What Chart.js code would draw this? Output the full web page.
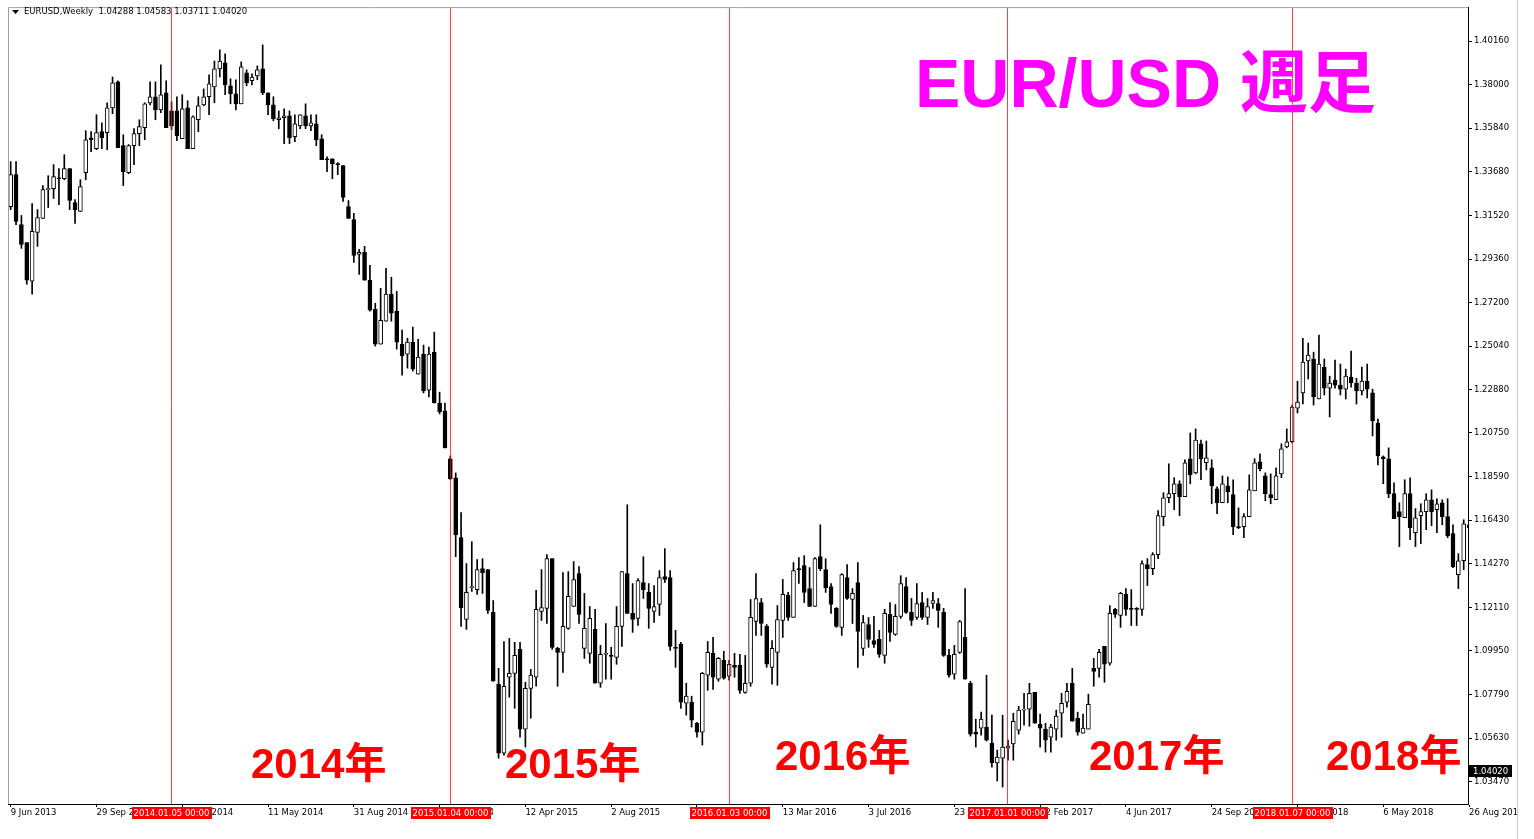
<!DOCTYPE html>
<html>
<head>
<meta charset="utf-8">
<script src="https://cdn.jsdelivr.net/npm/chart.js@4.4.0/dist/chart.umd.min.js"></script>
<style>
  html, body { margin: 0; padding: 0; background: #fff; }
  canvas { display: block; }
</style>
</head>
<body>
<canvas id="myChart" width="1534" height="839"></canvas>
<script>
// weekly EURUSD candles, 9 Jun 2013 .. Aug 2018
var open = [
  1.3196,1.3354,1.3107,1.3018,1.2826,1.3068,1.3137,1.3280,1.3285,1.3339,
  1.3334,1.3384,1.3216,1.3172,1.3364,1.3537,1.3483,1.3567,1.3562,1.3685,
  1.3814,1.3498,1.3364,1.3498,1.3557,1.3587,1.3710,1.3740,1.3675,1.3759,
  1.3670,1.3670,1.3532,1.3685,1.3483,1.3626,1.3700,1.3740,1.3789,1.3878,
  1.3908,1.3794,1.3755,1.3705,1.3858,1.3819,1.3843,1.3878,1.3759,1.3700,
  1.3626,1.3636,1.3646,1.3542,1.3596,1.3646,1.3596,1.3606,1.3532,1.3433,
  1.3433,1.3409,1.3399,1.3196,1.3132,1.2959,1.2969,1.2831,1.2687,1.2515,
  1.2628,1.2762,1.2678,1.2515,1.2465,1.2525,1.2366,1.2465,1.2287,1.2475,
  1.2223,1.2184,1.1947,1.1853,1.1556,1.1151,1.1309,1.1299,1.1403,1.1398,
  1.1186,1.0830,1.0489,1.0865,1.0884,1.1003,1.0608,1.0810,1.0865,1.1191,
  1.1206,1.1452,1.1008,1.0988,1.1107,1.1215,1.1378,1.1008,1.0983,1.1102,
  1.0835,1.0978,1.0973,1.0963,1.1117,1.1378,1.1181,1.1156,1.1334,1.1285,
  1.1191,1.1225,1.1364,1.1359,1.1013,1.1028,1.0736,1.0741,1.0637,1.0593,
  1.0875,1.0983,1.0855,1.0948,1.0870,1.0924,1.0924,1.0790,1.0835,1.1141,
  1.1235,1.1117,1.0914,1.0988,1.1146,1.1270,1.1161,1.1403,1.1418,1.1304,
  1.1215,1.1462,1.1398,1.1314,1.1206,1.1112,1.1359,1.1250,1.1334,1.1008,
  1.1126,1.1047,1.1052,1.0973,1.1176,1.1077,1.1166,1.1314,1.1186,1.1161,
  1.1235,1.1161,1.1230,1.1230,1.1186,1.0973,1.0880,1.0988,1.1062,1.0835,
  1.0593,1.0613,1.0618,1.0539,1.0440,1.0464,1.0514,1.0534,1.0603,1.0702,
  1.0707,1.0790,1.0632,1.0608,1.0568,1.0608,1.0687,1.0741,1.0835,1.0662,
  1.0588,1.0608,1.0909,1.0909,1.1018,1.0934,1.1201,1.1171,1.1275,1.1206,
  1.1206,1.1201,1.1423,1.1403,1.1472,1.1660,1.1754,1.1774,1.1823,1.1759,
  1.1947,1.1877,1.2021,1.1927,1.1902,1.1798,1.1729,1.1813,1.1769,1.1611,
  1.1611,1.1660,1.1788,1.1932,1.1862,1.1769,1.1744,1.1872,1.2006,1.2031,
  1.2198,1.2273,1.2431,1.2441,1.2243,1.2401,1.2297,1.2337,1.2312,1.2292,
  1.2351,1.2322,1.2283,1.2332,1.2273,1.2124,1.1956,1.1947,1.1774,1.1685,
  1.1655,1.1774,1.1581,1.1665,1.1685,1.1744,1.1695,1.1729,1.1660,1.1576,
  1.1373,1.1442,1.1620
];
var high = [
  1.3419,1.3419,1.3152,1.3018,1.3211,1.3181,1.3300,1.3349,1.3404,1.3384,
  1.3453,1.3384,1.3231,1.3329,1.3572,1.3567,1.3651,1.3611,1.3710,1.3838,
  1.3819,1.3552,1.3503,1.3582,1.3626,1.3710,1.3814,1.3814,1.3898,1.3819,
  1.3715,1.3740,1.3750,1.3720,1.3646,1.3740,1.3779,1.3848,1.3917,1.3972,
  1.3952,1.3829,1.3824,1.3913,1.3873,1.3853,1.3893,1.3997,1.3759,1.3740,
  1.3670,1.3680,1.3670,1.3651,1.3651,1.3705,1.3651,1.3651,1.3552,1.3443,
  1.3433,1.3414,1.3399,1.3226,1.3162,1.2984,1.2999,1.2905,1.2717,1.2791,
  1.2890,1.2846,1.2776,1.2584,1.2544,1.2599,1.2539,1.2510,1.2500,1.2574,
  1.2277,1.2223,1.1961,1.1877,1.1680,1.1428,1.1536,1.1448,1.1452,1.1398,
  1.1245,1.0909,1.1042,1.1057,1.1038,1.1038,1.0840,1.0904,1.1295,1.1398,
  1.1472,1.1452,1.1013,1.1383,1.1388,1.1438,1.1413,1.1280,1.1215,1.1201,
  1.1023,1.1131,1.1013,1.1215,1.1388,1.1719,1.1329,1.1354,1.1462,1.1329,
  1.1319,1.1393,1.1502,1.1393,1.1097,1.1038,1.0835,1.0771,1.0642,1.0889,
  1.1042,1.1062,1.0963,1.0993,1.0948,1.0983,1.0978,1.0973,1.1250,1.1378,
  1.1255,1.1126,1.1047,1.1220,1.1349,1.1285,1.1433,1.1457,1.1467,1.1408,
  1.1457,1.1620,1.1452,1.1329,1.1210,1.1378,1.1423,1.1304,1.1433,1.1171,
  1.1161,1.1166,1.1097,1.1201,1.1235,1.1225,1.1368,1.1359,1.1255,1.1329,
  1.1285,1.1255,1.1285,1.1255,1.1206,1.1003,1.1023,1.1146,1.1304,1.0845,
  1.0657,1.0692,1.0875,1.0677,1.0504,1.0677,1.0553,1.0687,1.0721,1.0785,
  1.0835,1.0790,1.0682,1.0637,1.0632,1.0702,1.0785,1.0835,1.0909,1.0692,
  1.0682,1.0781,1.0958,1.1003,1.1018,1.1220,1.1206,1.1285,1.1304,1.1299,
  1.1210,1.1442,1.1452,1.1482,1.1690,1.1779,1.1922,1.1853,1.1838,1.1942,
  1.2075,1.2095,1.2040,1.2035,1.1942,1.1808,1.1862,1.1857,1.1843,1.1704,
  1.1675,1.1867,1.1947,1.1971,1.1877,1.1872,1.1902,1.2021,1.2095,1.2213,
  1.2331,1.2544,1.2520,1.2475,1.2559,1.2441,1.2356,1.2436,1.2416,1.2391,
  1.2480,1.2346,1.2401,1.2416,1.2292,1.2144,1.1961,1.2001,1.1828,1.1729,
  1.1843,1.1853,1.1700,1.1724,1.1774,1.1793,1.1749,1.1744,1.1749,1.1620,
  1.1477,1.1645,1.1729
];
var low = [
  1.3181,1.3107,1.2989,1.2811,1.2762,1.2999,1.3137,1.3191,1.3236,1.3206,
  1.3329,1.3181,1.3112,1.3172,1.3329,1.3468,1.3478,1.3483,1.3478,1.3656,
  1.3488,1.3300,1.3359,1.3404,1.3498,1.3527,1.3700,1.3626,1.3661,1.3587,
  1.3577,1.3522,1.3532,1.3483,1.3483,1.3567,1.3695,1.3651,1.3710,1.3838,
  1.3750,1.3705,1.3675,1.3705,1.3794,1.3799,1.3824,1.3750,1.3651,1.3621,
  1.3582,1.3508,1.3508,1.3517,1.3582,1.3582,1.3572,1.3498,1.3428,1.3369,
  1.3334,1.3354,1.3221,1.3137,1.2920,1.2860,1.2831,1.2678,1.2505,1.2515,
  1.2628,1.2628,1.2490,1.2361,1.2396,1.2381,1.2366,1.2273,1.2253,1.2223,
  1.2169,1.2001,1.1843,1.1462,1.1117,1.1102,1.1290,1.1275,1.1280,1.1181,
  1.0845,1.0464,1.0479,1.0766,1.0711,1.0568,1.0519,1.0662,1.0820,1.1146,
  1.1131,1.1003,1.0820,1.0889,1.1102,1.1215,1.1131,1.0958,1.0934,1.0835,
  1.0815,1.0855,1.0855,1.0929,1.1018,1.1181,1.1087,1.1121,1.1255,1.1107,
  1.1136,1.1171,1.1334,1.0998,1.0914,1.0711,1.0677,1.0618,1.0568,1.0529,
  1.0800,1.0805,1.0845,1.0855,1.0850,1.0865,1.0785,1.0785,1.0820,1.1072,
  1.1072,1.0914,1.0830,1.0825,1.1062,1.1146,1.1161,1.1329,1.1235,1.1215,
  1.1215,1.1393,1.1285,1.1181,1.1112,1.1072,1.1250,1.1131,1.0914,1.0973,
  1.1013,1.1013,1.0963,1.0934,1.1042,1.1072,1.1156,1.1181,1.1121,1.1151,
  1.1151,1.1126,1.1206,1.1112,1.0968,1.0865,1.0855,1.0983,1.0855,1.0573,
  1.0519,1.0578,1.0549,1.0420,1.0351,1.0321,1.0454,1.0454,1.0583,1.0627,
  1.0622,1.0637,1.0519,1.0494,1.0494,1.0553,1.0568,1.0716,1.0647,1.0578,
  1.0588,1.0608,1.0820,1.0865,1.0840,1.0924,1.1161,1.1112,1.1171,1.1121,
  1.1121,1.1171,1.1319,1.1373,1.1452,1.1615,1.1729,1.1695,1.1665,1.1759,
  1.1823,1.1872,1.1843,1.1892,1.1724,1.1675,1.1729,1.1729,1.1571,1.1601,
  1.1556,1.1660,1.1788,1.1887,1.1739,1.1724,1.1744,1.1853,1.2001,1.2026,
  1.2174,1.2218,1.2342,1.2213,1.2243,1.2263,1.2154,1.2297,1.2263,1.2243,
  1.2302,1.2218,1.2263,1.2248,1.2060,1.1917,1.1823,1.1754,1.1650,1.1512,
  1.1655,1.1546,1.1512,1.1527,1.1596,1.1615,1.1581,1.1620,1.1556,1.1408,
  1.1304,1.1398,1.1601
];
var close = [
  1.3354,1.3122,1.3009,1.2831,1.3073,1.3142,1.3280,1.3285,1.3344,1.3334,
  1.3384,1.3226,1.3181,1.3295,1.3527,1.3527,1.3562,1.3537,1.3685,1.3809,
  1.3488,1.3369,1.3498,1.3557,1.3592,1.3705,1.3740,1.3675,1.3750,1.3587,
  1.3596,1.3547,1.3680,1.3483,1.3641,1.3695,1.3740,1.3804,1.3878,1.3917,
  1.3799,1.3755,1.3705,1.3888,1.3809,1.3838,1.3873,1.3759,1.3700,1.3631,
  1.3636,1.3646,1.3537,1.3606,1.3651,1.3596,1.3611,1.3527,1.3428,1.3428,
  1.3409,1.3404,1.3241,1.3137,1.2954,1.2969,1.2831,1.2683,1.2515,1.2633,
  1.2762,1.2668,1.2525,1.2456,1.2525,1.2391,1.2451,1.2283,1.2465,1.2223,
  1.2179,1.2001,1.1848,1.1571,1.1210,1.1285,1.1314,1.1398,1.1383,1.1196,
  1.0845,1.0489,1.0820,1.0884,1.0973,1.0608,1.0810,1.0875,1.1201,1.1210,
  1.1452,1.1013,1.0988,1.1117,1.1265,1.1349,1.1176,1.1107,1.1156,1.0835,
  1.0978,1.0983,1.0968,1.1117,1.1388,1.1181,1.1151,1.1344,1.1299,1.1206,
  1.1215,1.1359,1.1349,1.1018,1.1008,1.0741,1.0771,1.0652,1.0593,1.0884,
  1.0988,1.0865,1.0958,1.0860,1.0929,1.0914,1.0800,1.0835,1.1161,1.1255,
  1.1131,1.0929,1.1008,1.1151,1.1275,1.1161,1.1393,1.1398,1.1285,1.1215,
  1.1452,1.1403,1.1309,1.1225,1.1117,1.1373,1.1255,1.1280,1.1092,1.1136,
  1.1052,1.1028,1.0978,1.1181,1.1087,1.1166,1.1329,1.1186,1.1146,1.1230,
  1.1161,1.1215,1.1245,1.1196,1.0973,1.0875,1.0978,1.1141,1.0855,1.0583,
  1.0583,1.0657,1.0553,1.0440,1.0469,1.0519,1.0524,1.0647,1.0702,1.0707,
  1.0785,1.0637,1.0613,1.0553,1.0618,1.0672,1.0736,1.0795,1.0647,1.0593,
  1.0613,1.0731,1.0894,1.0988,1.0929,1.1181,1.1176,1.1280,1.1201,1.1201,
  1.1201,1.1428,1.1403,1.1472,1.1665,1.1754,1.1774,1.1823,1.1759,1.1927,
  1.1867,1.2040,1.1947,1.1952,1.1813,1.1729,1.1823,1.1784,1.1611,1.1606,
  1.1660,1.1793,1.1927,1.1897,1.1774,1.1754,1.1862,1.1996,1.2031,1.2203,
  1.2228,1.2426,1.2460,1.2253,1.2416,1.2297,1.2322,1.2312,1.2292,1.2356,
  1.2322,1.2283,1.2332,1.2292,1.2134,1.1961,1.1947,1.1774,1.1650,1.1660,
  1.1774,1.1606,1.1655,1.1685,1.1744,1.1685,1.1724,1.1660,1.1566,1.1413,
  1.1442,1.1625,1.1606
];

// axis labels
var dateLabels = ['9 Jun 2013', '29 Sep 2013', '19 Jan 2014', '11 May 2014', '31 Aug 2014', '21 Dec 2014',
  '12 Apr 2015', '2 Aug 2015', '22 Nov 2015', '13 Mar 2016', '3 Jul 2016', '23 Oct 2016',
  '12 Feb 2017', '4 Jun 2017', '24 Sep 2017', '14 Jan 2018', '6 May 2018', '26 Aug 2018'];
var labelStep = 16;
var priceTicks = [1.40160, 1.38000, 1.35840, 1.33680, 1.31520, 1.29360, 1.27200, 1.25040, 1.22880,
  1.20750, 1.18590, 1.16430, 1.14270, 1.12110, 1.09950, 1.07790, 1.05630, 1.03470];

// period separators
var sepBars = [30, 82, 134, 186, 239];
var sepLabels = ['2014.01.05 00:00', '2015.01.04 00:00', '2016.01.03 00:00', '2017.01.01 00:00', '2018.01.07 00:00'];
var yearTexts = ['2014年', '2015年', '2016年', '2017年', '2018年'];
var lastPrice = 1.04020;
var header = 'EURUSD,Weekly  1.04288 1.04583 1.03711 1.04020';

var smallFont = '8.5px "DejaVu Sans"';

document.addEventListener('DOMContentLoaded', function () {

    var idx = open.map(function (v, i) { return i; });

    //extra drawing: separators, frame, texts
    var overlay = {
        id: 'overlay',
        afterDatasetsDraw: function (chart) {
            var c = chart.ctx, a = chart.chartArea, xs = chart.scales.x;
            c.save();
            c.strokeStyle = 'rgba(255,0,0,0.75)';
            c.lineWidth = 1;
            sepBars.forEach(function (b) {
                var x = Math.floor(xs.getPixelForValue(b)) + 0.5;
                c.beginPath();
                c.moveTo(x, a.top);
                c.lineTo(x, a.bottom);
                c.stroke();
            });
            c.restore();
        },
        afterDraw: function (chart) {
            var c = chart.ctx, a = chart.chartArea, xs = chart.scales.x, ys = chart.scales.y;
            c.save();

            // left / top frame
            c.strokeStyle = '#a0a0a0';
            c.lineWidth = 1;
            c.beginPath();
            c.moveTo(a.left + 0.5, a.bottom);
            c.lineTo(a.left + 0.5, a.top + 0.5);
            c.lineTo(a.right, a.top + 0.5);
            c.stroke();

            // header
            c.fillStyle = '#000';
            c.beginPath();
            c.moveTo(12, 10);
            c.lineTo(19, 10);
            c.lineTo(15.5, 14);
            c.closePath();
            c.fill();
            c.font = smallFont;
            c.textBaseline = 'middle';
            c.textAlign = 'left';
            c.fillText(header, 24, 12);

            // separator date boxes on the time axis
            sepBars.forEach(function (b, i) {
                var x = Math.floor(xs.getPixelForValue(b)) + 0.5;
                var w = c.measureText(sepLabels[i]).width + 4;
                c.fillStyle = '#ff0000';
                c.fillRect(Math.round(x - w / 2), a.bottom + 3, Math.round(w), 12);
                c.fillStyle = '#fff';
                c.textAlign = 'center';
                c.fillText(sepLabels[i], x, a.bottom + 9.5);
            });

            // last price box
            var py = ys.getPixelForValue(lastPrice);
            c.fillStyle = '#000';
            c.fillRect(a.right + 1, Math.round(py) - 6, 43, 12);
            c.fillStyle = '#fff';
            c.textAlign = 'left';
            c.fillText(lastPrice.toFixed(5), a.right + 5, Math.round(py) + 0.5);

            // window edge on the right
            c.fillStyle = '#fff';
            c.fillRect(1518, 0, 16, chart.height);
            c.strokeStyle = '#c8c8c8';
            c.beginPath();
            c.moveTo(1517.5, 0);
            c.lineTo(1517.5, chart.height);
            c.stroke();

            // year captions
            c.fillStyle = '#ff0000';
            c.font = 'bold 42px "Liberation Sans", "Noto Sans CJK JP", sans-serif';
            c.textBaseline = 'alphabetic';
            var yearPos = [[251, 778], [505, 778], [775, 770], [1089, 770], [1326, 770]];
            yearTexts.forEach(function (t, i) {
                c.fillText(t, yearPos[i][0], yearPos[i][1]);
            });

            // title
            c.fillStyle = '#ff00ff';
            c.font = 'bold 68px "Liberation Sans", "Noto Sans CJK JP", sans-serif';
            c.fillText('EUR/USD 週足', 915, 107);

            c.restore();
        }
    };

    var ctx = document.getElementById('myChart').getContext('2d');
    var chart = new Chart(ctx, {
        type: 'bar',
        data: {
            datasets: [{
                label: 'body',
                data: idx.map(function (i) { return { x: i, y: [open[i], close[i]] }; }),
                backgroundColor: idx.map(function (i) { return close[i] >= open[i] ? '#ffffff' : '#000000'; }),
                borderColor: '#000000',
                borderWidth: 1,
                borderSkipped: false,
                barThickness: 4,
                minBarLength: 1,
                grouped: false,
                order: 1
            }, {
                label: 'wick',
                data: idx.map(function (i) { return { x: i, y: [low[i], high[i]] }; }),
                backgroundColor: '#000000',
                borderWidth: 0,
                barThickness: 1,
                grouped: false,
                order: 2
            }]
        },
        options: {
            responsive: false,
            animation: false,
            devicePixelRatio: 1,
            layout: { padding: { left: 8, top: 5, right: 0, bottom: 0 } },
            plugins: {
                legend: { display: false },
                tooltip: { enabled: false }
            },
            scales: {
                x: {
                    type: 'linear',
                    min: -0.5,
                    max: 271.8,
                    offset: false,
                    afterBuildTicks: function (s) {
                        s.ticks = dateLabels.map(function (l, i) { return { value: i * labelStep }; });
                    },
                    afterFit: function (s) { s.height = 35; },
                    grid: { drawOnChartArea: false, offset: false, tickLength: 3, color: '#000', tickColor: '#000' },
                    border: { display: true, color: '#000' },
                    ticks: {
                        align: 'start',
                        maxRotation: 0,
                        autoSkip: false,
                        padding: 1,
                        color: '#000',
                        font: { family: 'DejaVu Sans', size: 8.5 },
                        callback: function (v, i) { return dateLabels[i]; }
                    }
                },
                y: {
                    position: 'right',
                    min: 1.0237,
                    max: 1.4184,
                    afterBuildTicks: function (s) {
                        s.ticks = priceTicks.map(function (v) { return { value: v }; });
                    },
                    afterFit: function (s) { s.width = 66; },
                    grid: { drawOnChartArea: false, tickLength: 4, color: '#000', tickColor: '#000' },
                    border: { display: true, color: '#000' },
                    ticks: {
                        padding: 2,
                        color: '#000',
                        font: { family: 'DejaVu Sans', size: 8.5 },
                        callback: function (v) { return Number(v).toFixed(5); }
                    }
                }
            }
        },
        plugins: [overlay]
    });

});
</script>
</body>
</html>
